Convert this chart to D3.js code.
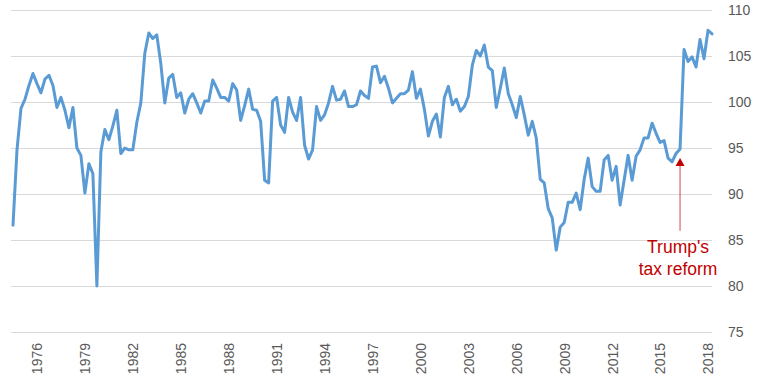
<!DOCTYPE html>
<html>
<head>
<meta charset="utf-8">
<script src="https://cdn.jsdelivr.net/npm/d3@7"></script>
<style>
  html, body { margin: 0; padding: 0; background: #ffffff; }
  svg { display: block; }
  text { font-family: "Liberation Sans", Arial, sans-serif; }
</style>
</head>
<body>
<svg id="chart" width="762" height="382"></svg>
<script>
// ---- data (quarterly, first quarter = 1974 Q3) ----
const startYear = 1974.5;
const quarterStep = 0.25;
const values = [
  86.6, 94.8, 99.3, 100.3, 101.8, 103.1, 102.0, 101.0, 102.5, 102.9,
  101.8, 99.4, 100.5, 99.1, 97.2, 99.4, 95.0, 94.2, 90.1, 93.3,
  92.2, 80.0, 94.6, 97.0, 95.9, 97.4, 99.1, 94.4, 95.0, 94.8,
  94.8, 97.8, 99.9, 105.3, 107.5, 106.9, 107.3, 104.2, 99.9, 102.6,
  103.0, 100.5, 101.0, 98.8, 100.3, 100.9, 99.9, 98.8, 100.1, 100.1,
  102.4, 101.5, 100.5, 100.5, 100.1, 102.0, 101.3, 98.0, 99.6, 101.4,
  99.2, 99.1, 97.9, 91.5, 91.2, 100.1, 100.5, 97.5, 96.7, 100.5,
  98.9, 98.0, 100.5, 95.3, 93.8, 94.8, 99.5, 98.0, 98.6, 99.9,
  101.7, 100.2, 100.3, 101.2, 99.5, 99.5, 99.7, 101.2, 100.7, 100.4,
  103.8, 103.9, 102.1, 102.8, 101.5, 99.9, 100.4, 100.9, 100.9, 101.3,
  103.3, 100.4, 101.4, 99.2, 96.3, 97.9, 98.7, 96.2, 100.5, 101.7,
  99.7, 100.3, 99.0, 99.5, 100.6, 104.0, 105.6, 105.0, 106.2, 103.8,
  103.4, 99.4, 101.5, 103.7, 100.9, 99.7, 98.3, 100.6, 98.6, 96.4,
  97.9, 96.1, 91.6, 91.2, 88.4, 87.4, 83.9, 86.4, 86.9, 89.1,
  89.1, 90.1, 88.3, 91.6, 93.9, 90.8, 90.3, 90.3, 93.7, 94.2,
  91.5, 93.0, 88.8, 91.5, 94.2, 91.5, 94.1, 94.8, 96.1, 96.1,
  97.7, 96.6, 95.6, 95.8, 93.9, 93.5, 94.4, 94.9, 105.7, 104.4,
  104.9, 103.8, 106.8, 104.7, 107.8, 107.4
];
const xTickYears = [1976, 1979, 1982, 1985, 1988, 1991, 1994, 1997, 2000, 2003, 2006, 2009, 2012, 2015, 2018];
const yTicks = [75, 80, 85, 90, 95, 100, 105, 110];
// annotation
const annotationDate = 2016.25;
const annotationFrom = 86.0;
const annotationTo = 93.9;
const annotationLines = ["Trump's", "tax reform"];

// ---- layout ----
const svg = d3.select("#chart");
const plot = { left: 13, right: 712, top: 10, bottom: 332 };
const gridLeft = 11;

const dates = values.map((v, i) => startYear + i * quarterStep);
const x = d3.scaleLinear()
  .domain([startYear, dates[dates.length - 1]])
  .range([plot.left, plot.right]);
const y = d3.scaleLinear()
  .domain([75, 110])
  .range([plot.bottom, plot.top]);

// gridlines
svg.append("g")
  .selectAll("line")
  .data(yTicks)
  .join("line")
  .attr("x1", gridLeft)
  .attr("x2", plot.right)
  .attr("y1", d => y(d))
  .attr("y2", d => y(d))
  .attr("stroke", "#d9d9d9")
  .attr("stroke-width", 1)
  .attr("shape-rendering", "crispEdges");

// y axis on right
const yAxis = d3.axisRight(y).tickValues(yTicks).tickSize(0).tickPadding(16);
const yg = svg.append("g")
  .attr("transform", `translate(${plot.right},0)`)
  .call(yAxis);
yg.select(".domain").remove();
yg.selectAll("text")
  .attr("fill", "#595959")
  .style("font-size", "14px")
  .style("font-family", "'Liberation Sans', Arial, sans-serif");

// x axis (rotated labels)
const xAxis = d3.axisBottom(x).tickValues(xTickYears).tickSize(0).tickFormat(d3.format("d"));
const xg = svg.append("g")
  .attr("transform", `translate(0,${plot.bottom})`)
  .call(xAxis);
xg.select(".domain").remove();
xg.selectAll("text")
  .attr("fill", "#595959")
  .style("font-size", "14px")
  .style("font-family", "'Liberation Sans', Arial, sans-serif")
  .attr("text-anchor", "end")
  .attr("transform", "rotate(-90)")
  .attr("x", -11)
  .attr("y", 0)
  .attr("dy", "0.35em");

// line
const line = d3.line()
  .x((d, i) => x(dates[i]))
  .y(d => y(d));
svg.append("path")
  .datum(values)
  .attr("d", line)
  .attr("fill", "none")
  .attr("stroke", "#5b9bd5")
  .attr("stroke-width", 3)
  .attr("stroke-linejoin", "round")
  .attr("stroke-linecap", "round");

// annotation arrow
const ax = x(annotationDate);
const tipY = y(annotationTo);
svg.append("line")
  .attr("x1", ax).attr("x2", ax)
  .attr("y1", y(annotationFrom))
  .attr("y2", tipY + 6)
  .attr("stroke", "#d24a4a")
  .attr("stroke-width", 1);
svg.append("path")
  .attr("d", `M${ax},${tipY} L${ax - 4.5},${tipY + 8} L${ax + 4.5},${tipY + 8} Z`)
  .attr("fill", "#c00000");

// annotation text
svg.append("text")
  .attr("x", ax - 2)
  .attr("y", y(annotationFrom) + 22)
  .attr("text-anchor", "middle")
  .attr("fill", "#c00000")
  .style("font-size", "17.5px")
  .selectAll("tspan")
  .data(annotationLines)
  .join("tspan")
  .attr("x", ax - 2)
  .attr("dy", (d, i) => i === 0 ? 0 : 22)
  .text(d => d);
</script>
</body>
</html>
